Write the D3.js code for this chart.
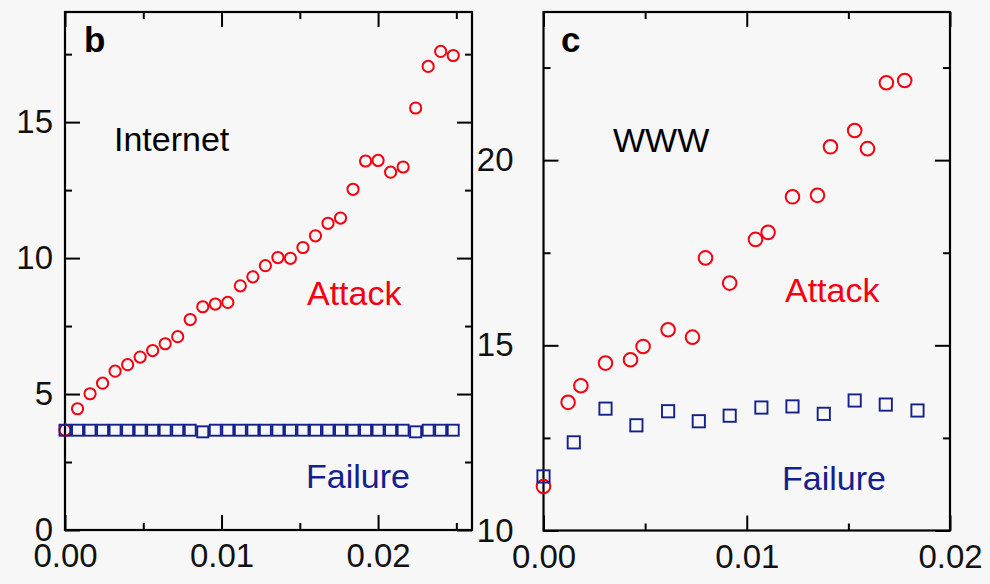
<!DOCTYPE html>
<html>
<head>
<meta charset="utf-8">
<script src="https://cdn.jsdelivr.net/npm/d3@7"></script>
<style>
  html, body { margin: 0; padding: 0; background: #f7f7f7; }
  svg { display: block; }
  text { font-family: "Liberation Sans", Arial, Helvetica, sans-serif; }
</style>
</head>
<body>
<svg id="chart" width="990" height="584"></svg>
<script>
// ---- Internet (panel b): diameter vs fraction of nodes removed ----
const internetFraction = [0, 0.0008, 0.0016, 0.0024, 0.0032, 0.004, 0.0048, 0.0056,
  0.0064, 0.0072, 0.008, 0.0088, 0.0096, 0.0104, 0.0112, 0.012, 0.0128, 0.0136,
  0.0144, 0.0152, 0.016, 0.0168, 0.0176, 0.0184, 0.0192, 0.02, 0.0208, 0.0216,
  0.0224, 0.0232, 0.024, 0.0248];
const internetAttack = [3.67, 4.46, 5.01, 5.40, 5.84, 6.08, 6.36, 6.60, 6.85, 7.11,
  7.74, 8.21, 8.31, 8.37, 8.98, 9.31, 9.72, 10.02, 9.99, 10.39, 10.82, 11.28, 11.47,
  12.53, 13.57, 13.59, 13.16, 13.35, 15.52, 17.05, 17.60, 17.45];
const internetFailure = [3.67, 3.67, 3.67, 3.67, 3.67, 3.67, 3.67, 3.67, 3.67, 3.67,
  3.67, 3.61, 3.67, 3.67, 3.67, 3.67, 3.67, 3.67, 3.67, 3.67, 3.67, 3.67, 3.67,
  3.67, 3.67, 3.67, 3.67, 3.67, 3.61, 3.67, 3.67, 3.67];

// ---- WWW (panel c) ----
const wwwAttackFraction = [0, 0.00121, 0.00184, 0.00305, 0.00428, 0.0049, 0.00613,
  0.00733, 0.00797, 0.00916, 0.01043, 0.01105, 0.01225, 0.01348, 0.01412, 0.01531,
  0.01594, 0.01687, 0.01777];
const wwwAttack = [11.19, 13.46, 13.91, 14.52, 14.61, 14.97, 15.42, 15.22, 17.36,
  16.68, 17.86, 18.05, 19.01, 19.05, 20.36, 20.80, 20.31, 22.09, 22.15];
const wwwFailureFraction = [0, 0.00149, 0.00305, 0.00457, 0.00613, 0.00764, 0.00916,
  0.01072, 0.01225, 0.01379, 0.01531, 0.01684, 0.0184];
const wwwFailure = [11.46, 12.38, 13.29, 12.84, 13.22, 12.95, 13.10, 13.32, 13.35,
  13.15, 13.51, 13.40, 13.24];

// ---- tick values ----
const internetYMajor = [0, 5, 10, 15];
const internetYMinor = [2.5, 7.5, 12.5, 17.5];
const internetXMajor = [0, 0.01, 0.02];
const internetXMinor = [0.005, 0.015, 0.025];
const wwwYMajor = [10, 15, 20];
const wwwYMinor = [12.5, 17.5, 22.5];
const wwwXMajor = [0, 0.01, 0.02];
const wwwXMinor = [0.005, 0.015];

const RED = "#f5000f";
const NAVY = "#14218c";
const svg = d3.select("#chart");

function drawPanel(p) {
  const x = d3.scaleLinear().domain(p.xDomain).range([p.left, p.right]);
  const y = d3.scaleLinear().domain(p.yDomain).range([p.bottom, p.top]);
  const g = svg.append("g");

  function styleAxis(sel) {
    sel.select(".domain").remove();
    sel.selectAll("line").attr("stroke", "#000").attr("stroke-width", 2);
    sel.selectAll("text").attr("font-size", 33).attr("fill", "#111")
      .attr("font-family", "\"Liberation Sans\", Arial, sans-serif");
    sel.attr("font-family", null).attr("font-size", null);
  }

  // bottom
  g.append("g").attr("transform", `translate(0,${p.bottom})`)
    .call(d3.axisBottom(x).tickValues(p.xMajor).tickSize(-15).tickPadding(14)
      .tickFormat(d3.format(".2f"))).call(styleAxis);
  g.append("g").attr("transform", `translate(0,${p.bottom})`)
    .call(d3.axisBottom(x).tickValues(p.xMinor).tickSize(-7).tickFormat("")).call(styleAxis);
  // top
  g.append("g").attr("transform", `translate(0,${p.top})`)
    .call(d3.axisTop(x).tickValues(p.xMajor).tickSize(-15).tickFormat("")).call(styleAxis);
  g.append("g").attr("transform", `translate(0,${p.top})`)
    .call(d3.axisTop(x).tickValues(p.xMinor).tickSize(-7).tickFormat("")).call(styleAxis);
  // left
  g.append("g").attr("transform", `translate(${p.left},0)`)
    .call(d3.axisLeft(y).tickValues(p.yMajor).tickSize(-15).tickPadding(p.yPad)
      .tickFormat(d3.format("d"))).call(styleAxis);
  g.append("g").attr("transform", `translate(${p.left},0)`)
    .call(d3.axisLeft(y).tickValues(p.yMinor).tickSize(-7).tickFormat("")).call(styleAxis);
  // right
  g.append("g").attr("transform", `translate(${p.right},0)`)
    .call(d3.axisRight(y).tickValues(p.yMajor).tickSize(-15).tickFormat("")).call(styleAxis);
  g.append("g").attr("transform", `translate(${p.right},0)`)
    .call(d3.axisRight(y).tickValues(p.yMinor).tickSize(-7).tickFormat("")).call(styleAxis);

  // frame
  g.append("rect")
    .attr("x", p.left).attr("y", p.top)
    .attr("width", p.right - p.left).attr("height", p.bottom - p.top)
    .attr("fill", "none").attr("stroke", "#000").attr("stroke-width", 2.2);

  // attack: open red circles
  g.append("g").selectAll("circle")
    .data(p.attackX.map((v, i) => [v, p.attackY[i]]))
    .join("circle")
    .attr("cx", d => x(d[0])).attr("cy", d => y(d[1]))
    .attr("r", p.r).attr("fill", "none").attr("stroke", RED).attr("stroke-width", 2);

  // failure: open navy squares
  g.append("g").selectAll("rect")
    .data(p.failX.map((v, i) => [v, p.failY[i]]))
    .join("rect")
    .attr("x", d => x(d[0]) - p.sq / 2).attr("y", d => y(d[1]) - p.sq / 2)
    .attr("width", p.sq).attr("height", p.sq)
    .attr("fill", "none").attr("stroke", NAVY).attr("stroke-width", 1.9);

  // panel letter and annotations
  g.append("text").attr("x", p.letterX).attr("y", 52)
    .attr("font-size", 35).attr("font-weight", 900).attr("fill", "#000")
    .text(p.letter);
  g.append("text").attr("x", p.nameX).attr("y", p.nameY)
    .attr("font-size", 34).attr("fill", "#000").text(p.name);
  g.append("text").attr("x", p.attackLabel[0]).attr("y", p.attackLabel[1])
    .attr("font-size", 34).attr("fill", RED).text("Attack");
  g.append("text").attr("x", p.failLabel[0]).attr("y", p.failLabel[1])
    .attr("font-size", 34).attr("fill", NAVY).text("Failure");
}

drawPanel({
  left: 65, right: 472, top: 12, bottom: 530,
  xDomain: [0, 0.026], yDomain: [0, 19.05],
  xMajor: internetXMajor, xMinor: internetXMinor,
  yMajor: internetYMajor, yMinor: internetYMinor, yPad: 12,
  attackX: internetFraction, attackY: internetAttack,
  failX: internetFraction, failY: internetFailure,
  r: 5.6, sq: 11,
  letter: "b", letterX: 84,
  name: "Internet", nameX: 114, nameY: 151,
  attackLabel: [307, 305], failLabel: [306, 488]
});

drawPanel({
  left: 543.5, right: 950, top: 12, bottom: 530.5,
  xDomain: [0, 0.02], yDomain: [10, 24],
  xMajor: wwwXMajor, xMinor: wwwXMinor,
  yMajor: wwwYMajor, yMinor: wwwYMinor, yPad: 30,
  attackX: wwwAttackFraction, attackY: wwwAttack,
  failX: wwwFailureFraction, failY: wwwFailure,
  r: 6.8, sq: 12.2,
  letter: "c", letterX: 561,
  name: "WWW", nameX: 613, nameY: 152,
  attackLabel: [785, 302], failLabel: [782, 490]
});
</script>
</body>
</html>
